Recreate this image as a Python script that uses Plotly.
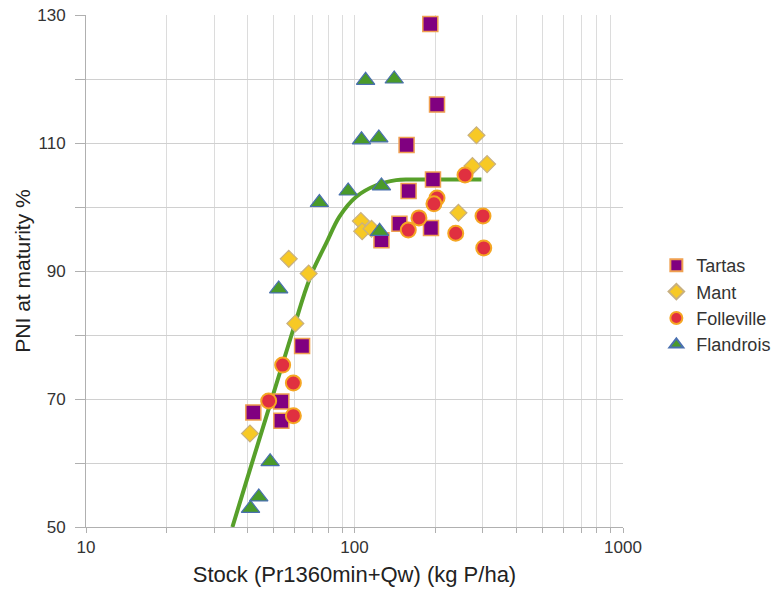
import plotly.graph_objects as go

# ---- data ----
tartas_x = [191.6, 202.9, 156.3, 196, 159, 147, 192.7, 126, 63.8, 53.4, 42.0, 53.4]
tartas_y = [128.6, 116.0, 109.7, 104.3, 102.5, 97.4, 96.7, 94.8, 78.3, 69.6, 67.9, 66.6]

mant_x = [284.6, 274.9, 311.7, 243.8, 105.6, 106.8, 115.7, 56.9, 67.5, 60.2, 40.8]
mant_y = [111.2, 106.4, 106.7, 99.1, 97.8, 96.2, 96.6, 91.9, 89.6, 81.8, 64.6]

folleville_x = [258, 202.9, 197.6, 173.8, 158.6, 301, 238.2, 302.9, 54.0, 59.2, 47.9, 59.2]
folleville_y = [105.0, 101.4, 100.5, 98.3, 96.4, 98.6, 95.9, 93.6, 75.3, 72.5, 69.7, 67.4]

flandrois_x = [110, 140.6, 106.2, 123.2, 94.7, 126, 74.0, 124, 52.2, 48.5, 44.0, 41.0]
flandrois_y = [119.8, 120.0, 110.5, 110.8, 102.5, 103.3, 100.7, 96.2, 87.2, 60.2, 54.7, 52.9]

curve_x = [35.1, 40, 48.2, 55, 60.6, 65, 69.9, 78.4, 87.9, 101.5, 120.5, 143, 160, 200, 250, 297]
curve_y = [50.0, 57.8, 68.8, 76.6, 82.3, 86.4, 90.0, 94.3, 98.5, 101.6, 103.4, 104.2, 104.3, 104.3, 104.3, 104.3]

x_minor_ticks = [10, 20, 30, 40, 50, 60, 70, 80, 90, 100, 200, 300, 400, 500, 600, 700, 800, 900, 1000]
x_labels = {10: "10", 100: "100", 1000: "1000"}
y_ticks = [50, 60, 70, 80, 90, 100, 110, 120, 130]
y_labels = {50: "50", 70: "70", 90: "90", 110: "110", 130: "130"}

FONT = "Liberation Sans, Arial, sans-serif"

fig = go.Figure()

fig.add_trace(go.Scatter(
    x=curve_x, y=curve_y, mode="lines", line=dict(color="#57A02A", width=4, shape="spline"),
    showlegend=False, hoverinfo="skip"))

fig.add_trace(go.Scatter(
    x=tartas_x, y=tartas_y, mode="markers", name="Tartas",
    marker=dict(symbol="square", size=15, color="#800080", line=dict(color="#F0A050", width=1.5))))
fig.add_trace(go.Scatter(
    x=mant_x, y=mant_y, mode="markers", name="Mant",
    marker=dict(symbol="diamond", size=13, color="#F7C925", line=dict(color="#C8B080", width=1.2))))
fig.add_trace(go.Scatter(
    x=folleville_x, y=folleville_y, mode="markers", name="Folleville",
    marker=dict(symbol="circle", size=15, color="#E03040", line=dict(color="#F5A623", width=2))))
fig.add_trace(go.Scatter(
    x=flandrois_x, y=flandrois_y, mode="markers", name="Flandrois",
    marker=dict(symbol="triangle-up", size=16, color="#4A9A2A", line=dict(color="#4A70B0", width=1.2))))

# darker decade line at 100
fig.add_shape(type="line", xref="x", yref="paper", x0=100, x1=100, y0=0, y1=1,
              line=dict(color="#B0B0B0", width=1), layer="below")

fig.update_layout(
    width=774, height=594,
    margin=dict(l=86, r=151, t=15, b=67, autoexpand=False),
    paper_bgcolor="white", plot_bgcolor="white",
    font=dict(family=FONT, size=17, color="#333333"),
    showlegend=True,
    legend=dict(xref="container", yref="container", x=0.848, xanchor="left",
                y=0.4865, yanchor="middle",
                font=dict(family=FONT, size=18, color="#333333"),
                bgcolor="rgba(0,0,0,0)", tracegroupgap=0, itemsizing="constant"),
    xaxis=dict(
        type="log", range=[1, 3], automargin=False,
        tickvals=x_minor_ticks,
        ticktext=[x_labels.get(v, "") for v in x_minor_ticks],
        showgrid=True, gridcolor="#DCDCDC", gridwidth=1,
        showline=True, linecolor="#B0B0B0", linewidth=1, mirror=False,
        ticks="outside", ticklen=5, tickcolor="#B0B0B0",
        zeroline=False,
        tickfont=dict(family=FONT, size=17, color="#333333"),
        title=dict(text="Stock (Pr1360min+Qw) (kg P/ha)", standoff=10,
                   font=dict(family=FONT, size=22, color="#222222")),
    ),
    yaxis=dict(
        range=[50, 130], automargin=False,
        tickvals=y_ticks,
        ticktext=[y_labels.get(v, "") for v in y_ticks],
        showgrid=True, gridcolor="#D0D0D0", gridwidth=1,
        showline=True, linecolor="#B0B0B0", linewidth=1,
        ticks="outside", ticklen=10, tickcolor="#B0B0B0",
        ticklabelstandoff=6,
        zeroline=False,
        tickfont=dict(family=FONT, size=17, color="#333333"),
        title=dict(text="PNI at maturity %", standoff=0,
                   font=dict(family=FONT, size=21, color="#222222")),
    ),
)

fig.write_html("out.html")
